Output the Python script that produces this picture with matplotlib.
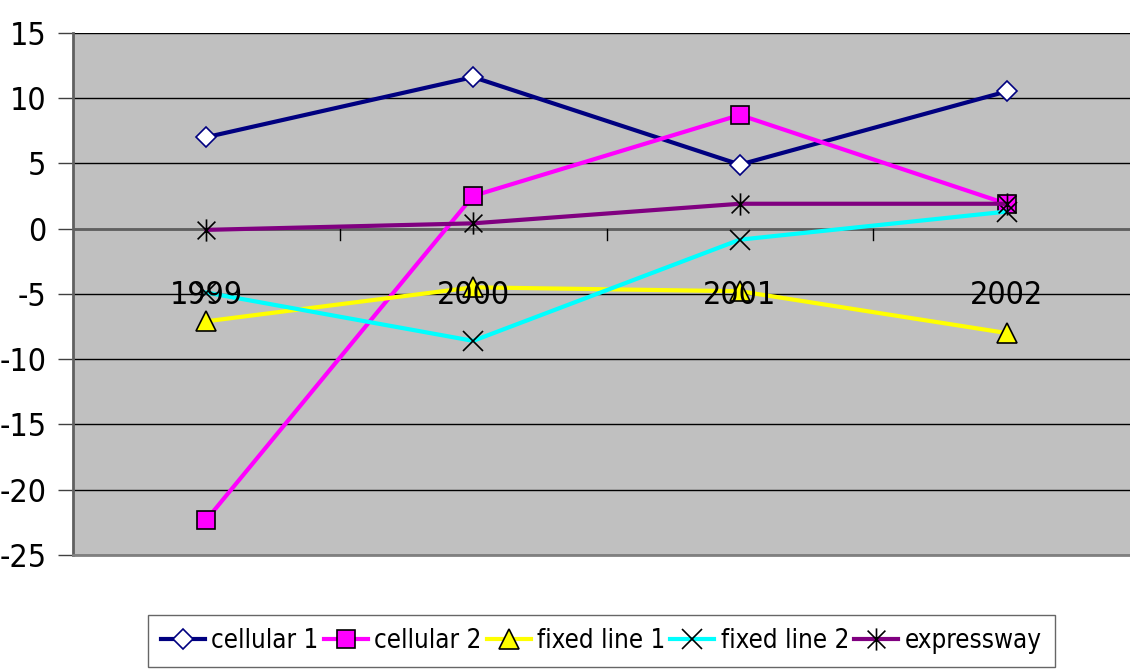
import numpy as np
import matplotlib.pyplot as plt
from matplotlib.path import Path

years = ['1999', '2000', '2001', '2002']
cellular_1 = [7.0, 11.6, 4.9, 10.5]
cellular_2 = [-22.3, 2.5, 8.7, 1.9]
fixed_line_1 = [-7.1, -4.5, -4.8, -8.0]
fixed_line_2 = [-4.9, -8.6, -0.85, 1.3]
expressway = [-0.1, 0.4, 1.9, 1.9]

plt.rcParams['font.family'] = ['DejaVu Sans']
plt.rcParams['font.stretch'] = 'condensed'
plt.rcParams['axes.unicode_minus'] = False

# excel style asterisk: an x with a vertical bar
star = Path([(-1, -1), (1, 1), (-1, 1), (1, -1), (0, -1.25), (0, 1.25)],
            [Path.MOVETO, Path.LINETO, Path.MOVETO, Path.LINETO,
             Path.MOVETO, Path.LINETO])

fig = plt.figure(figsize=(11.3, 6.69), dpi=100)
ax = fig.add_axes([73 / 1130, 114 / 669, 1067 / 1130, 522.3 / 669])
ax.set_facecolor('#c0c0c0')

x = np.arange(len(years))
lw = 3
ax.plot(x, cellular_1, color='#000080', lw=lw, marker='D', ms=10,
        mfc='white', mec='#000080', mew=1.2, label='cellular 1', zorder=3)
ax.plot(x, cellular_2, color='#ff00ff', lw=lw, marker='s', ms=13,
        mfc='#ff00ff', mec='black', mew=1.2, label='cellular 2', zorder=3)
ax.plot(x, fixed_line_1, color='#ffff00', lw=lw, marker='^', ms=14,
        mfc='#ffff00', mec='black', mew=1.2, label='fixed line 1', zorder=3)
ax.plot(x, fixed_line_2, color='#00ffff', lw=lw, marker='x', ms=14,
        mec='black', mew=1.2, label='fixed line 2', zorder=3)
ax.plot(x, expressway, color='#800080', lw=lw, marker=star, ms=16,
        mec='black', mew=1.2, label='expressway', zorder=3)

ax.set_xlim(-0.5, 3.5)
ax.set_ylim(-25, 15)
ax.set_yticks(np.arange(-25, 16, 5))
ax.yaxis.grid(True, color='black', lw=1)
ax.set_axisbelow(True)
ax.axhline(0, color='#606060', lw=2, zorder=2)
ax.tick_params(axis='y', direction='out', length=11, width=1,
               color='#404040', labelsize=23, pad=8)
ax.set_xticks([])
# category separators hang below the zero line
for xi in [0.5, 1.5, 2.5]:
    ax.plot([xi, xi], [0, -0.85], color='black', lw=1, zorder=2)
for i, yr in enumerate(years):
    ax.text(i, -5.1, yr, ha='center', va='center', fontsize=23, zorder=4)

for s in ['top', 'right']:
    ax.spines[s].set_visible(False)
ax.spines['left'].set_color('#606060')
ax.spines['left'].set_linewidth(2)
ax.spines['bottom'].set_color('#808080')
ax.spines['bottom'].set_linewidth(2)

fig.legend(loc='upper left', bbox_to_anchor=(148 / 1130, 1 - 615 / 669),
           ncol=5, fontsize=18.6, frameon=True, fancybox=False,
           edgecolor='#404040', handlelength=1.7, handletextpad=0.25,
           columnspacing=0.2, borderpad=0.5, borderaxespad=0)

fig.savefig('out.png', dpi=100)
